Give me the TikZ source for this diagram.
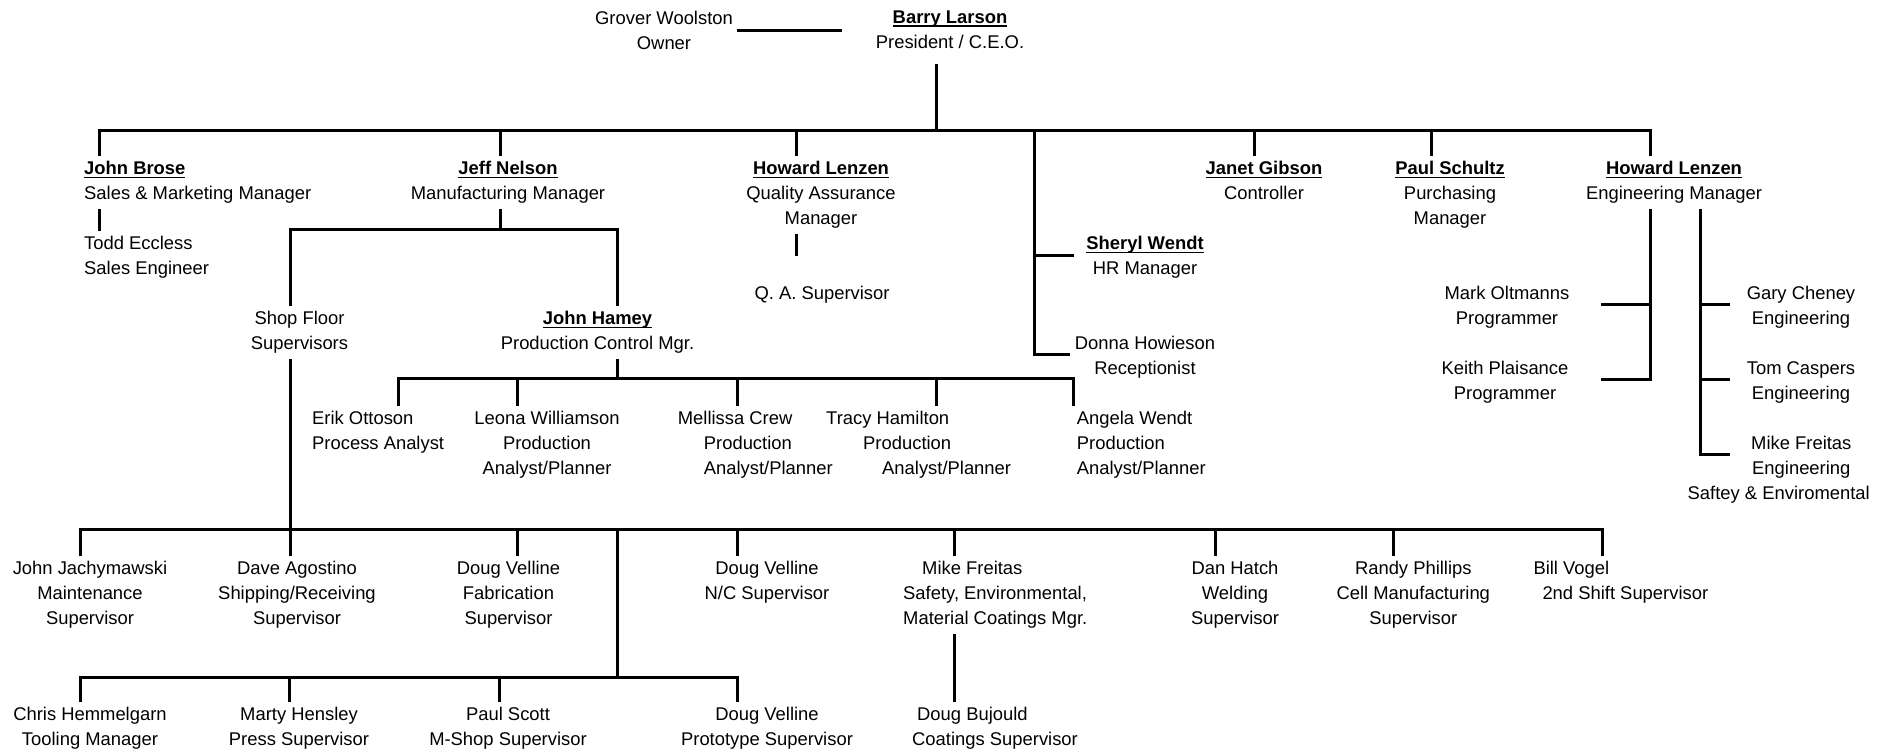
\documentclass[tikz,border=0pt]{standalone}
\usepackage{fontspec}
\setmainfont{Liberation Sans}
\newsavebox{\namebox}
\newcommand{\uname}[1]{\sbox{\namebox}{\textbf{#1}}\rlap{\usebox{\namebox}}\rule[-3.5pt]{\wd\namebox}{1.5pt}}

\begin{document}
\begin{tikzpicture}[x=1pt,y=-1pt]

      \fill[white] (0,0) rectangle (1890,750);
      \useasboundingbox (0,0) rectangle (1890,750);

      \begin{scope}[every node/.style={align=center,anchor=north,inner xsep=0pt,inner ysep=5pt,font=\fontsize{18.4}{25}\selectfont}]
        \node (owner)    at (664,6.3)     {Grover Woolston\\Owner};
        \node (ceo)      at (950,5.3)     {\uname{Barry Larson}\\President / C.E.O.};

        \node[align=left,anchor=north west] (sales) at (84,156.3) {\uname{John Brose}\\Sales \& Marketing Manager};
        \node (mfg)      at (508,156.3)   {\uname{Jeff Nelson}\\Manufacturing Manager};
        \node (qa)       at (821,156.3)   {\uname{Howard Lenzen}\\Quality Assurance\\Manager};
        \node (ctrl)     at (1264,156.3)  {\uname{Janet Gibson}\\Controller};
        \node (purch)    at (1450,156.3)  {\uname{Paul Schultz}\\Purchasing\\Manager};
        \node (eng)      at (1674,156.3)  {\uname{Howard Lenzen}\\Engineering Manager};

        \node[align=left,anchor=north west] (todd) at (84,231.3) {Todd Eccless\\Sales Engineer};
        \node (hr)       at (1145,231.3)  {\uname{Sheryl Wendt}\\HR Manager};
        \node (qasup)    at (822,281.3)   {Q. A. Supervisor};
        \node (shop)     at (299.5,306.3) {Shop Floor\\Supervisors};
        \node (prodctl)  at (597.5,306.3) {\uname{John Hamey}\\Production Control Mgr.};
        \node (recep)    at (1145,331.3)  {Donna Howieson\\Receptionist};

        \node (mark)     at (1507,281.3)  {Mark Oltmanns\\Programmer};
        \node (keith)    at (1505,356.3)  {Keith Plaisance\\Programmer};
        \node (gary)     at (1801,281.3)  {Gary Cheney\\Engineering};
        \node (tom)      at (1801,356.3)  {Tom Caspers\\Engineering};
        \node[align=left,anchor=north west] (mikeeng) at (1687.5,431.3) {\hspace*{63.5pt}Mike Freitas\\\hspace*{64.5pt}Engineering\\Saftey \& Enviromental};

        \node[align=left,anchor=north west] (erik) at (312,406.3) {Erik Ottoson\\Process Analyst};
        \node (leona)    at (547,406.3)   {Leona Williamson\\Production\\Analyst/Planner};
        \node[align=left,anchor=north west] (mellissa) at (677.7,406.3) {Mellissa Crew\\\hspace*{26pt}Production\\\hspace*{26pt}Analyst/Planner};
        \node[align=left,anchor=north west] (tracy) at (826,406.3) {Tracy Hamilton\\\hspace*{37pt}Production\\\hspace*{56pt}Analyst/Planner};
        \node[align=left,anchor=north west] (angela) at (1076.7,406.3) {Angela Wendt\\Production\\Analyst/Planner};

        \node (jachym)   at (90,556.3)    {John Jachymawski\\Maintenance\\Supervisor};
        \node (agostino) at (297,556.3)   {Dave Agostino\\Shipping/Receiving\\Supervisor};
        \node (fab)      at (508.5,556.3) {Doug Velline\\Fabrication\\Supervisor};
        \node (nc)       at (767,556.3)   {Doug Velline\\N/C Supervisor};
        \node[align=left,anchor=north west] (safety) at (903,556.3) {\hspace*{19pt}Mike Freitas\\Safety, Environmental,\\Material Coatings Mgr.};
        \node (welding)  at (1235,556.3)  {Dan Hatch\\Welding\\Supervisor};
        \node (cell)     at (1413.3,556.3) {Randy Phillips\\Cell Manufacturing\\Supervisor};
        \node[align=left,anchor=north west] (shift2) at (1533.3,556.3) {Bill Vogel\\\hspace*{9pt}2nd Shift Supervisor};

        \node (tooling)  at (90,702.3)    {Chris Hemmelgarn\\Tooling Manager};
        \node (press)    at (299,702.3)   {Marty Hensley\\Press Supervisor};
        \node (mshop)    at (508,702.3)   {Paul Scott\\M-Shop Supervisor};
        \node (proto)    at (767,702.3)   {Doug Velline\\Prototype Supervisor};
        \node[align=left,anchor=north west] (coatings) at (912,702.3) {\hspace*{5pt}Doug Bujould\\Coatings Supervisor};
      \end{scope}

      % free ends of the side branches
      \coordinate (qaend)    at (796,256);
      \coordinate (hrend)    at (1074,255);
      \coordinate (recepend) at (1070,354.5);
      \coordinate (markend)  at (1601,304);
      \coordinate (keithend) at (1601,379);
      \coordinate (garyend)  at (1730,304);
      \coordinate (tomend)   at (1730,379);
      \coordinate (mikeend)  at (1730,454);

      \begin{scope}[line width=3pt]
        \draw[shorten <=4pt,shorten >=34pt] (owner.east) -- (owner.east -| ceo.west);
        \draw[shorten <=10pt] (ceo.south -| 936.7,0) -- (936.7,130);

        \draw (99,0 |- sales.north) -- (99,130) -- (1650,130) -- (1650,0 |- eng.north);
        \draw (500,130) -- (500,0 |- mfg.north);
        \draw (796,130) -- (796,0 |- qa.north);
        \draw (1254.5,130) -- (1254.5,0 |- ctrl.north);
        \draw (1431.5,130) -- (1431.5,0 |- purch.north);
        \draw (1034,130) -- (1034,0 |- recepend) -- (recepend);
        \draw (1034,0 |- hrend) -- (hrend);

        \draw (99,0 |- sales.south) -- (99,0 |- todd.north);
        \draw (500,0 |- mfg.south) -- (500,229);
        \draw (290,0 |- shop.north) -- (290,229) -- (617,229) -- (617,0 |- prodctl.north);
        \draw (796,0 |- qa.south) -- (qaend);

        \draw (617,0 |- prodctl.south) -- (617,378);
        \draw (398,0 |- erik.north) -- (398,378) -- (1073,378) -- (1073,0 |- angela.north);
        \draw (517.5,378) -- (517.5,0 |- leona.north);
        \draw (737,378) -- (737,0 |- mellissa.north);
        \draw (936,378) -- (936,0 |- tracy.north);

        \draw (1650,0 |- eng.south) -- (1650,0 |- keithend) -- (keithend);
        \draw (1650,0 |- markend) -- (markend);
        \draw (1700,0 |- eng.south) -- (1700,0 |- mikeend) -- (mikeend);
        \draw (1700,0 |- garyend) -- (garyend);
        \draw (1700,0 |- tomend) -- (tomend);

        \draw (290,0 |- shop.south) -- (290,0 |- agostino.north);
        \draw (80.5,0 |- jachym.north) -- (80.5,529) -- (1602,529) -- (1602,0 |- shift2.north);
        \draw (517.5,529) -- (517.5,0 |- fab.north);
        \draw (737.5,529) -- (737.5,0 |- nc.north);
        \draw (954,529) -- (954,0 |- safety.north);
        \draw (1215.7,529) -- (1215.7,0 |- welding.north);
        \draw (1393.3,529) -- (1393.3,0 |- cell.north);
        \draw (954,0 |- safety.south) -- (954,0 |- coatings.north);

        \draw (617,529) -- (617,677);
        \draw (80.5,0 |- tooling.north) -- (80.5,677) -- (737.5,677) -- (737.5,0 |- proto.north);
        \draw (289,677) -- (289,0 |- press.north);
        \draw (499,677) -- (499,0 |- mshop.north);
      \end{scope}

    \end{tikzpicture}
\end{document}
